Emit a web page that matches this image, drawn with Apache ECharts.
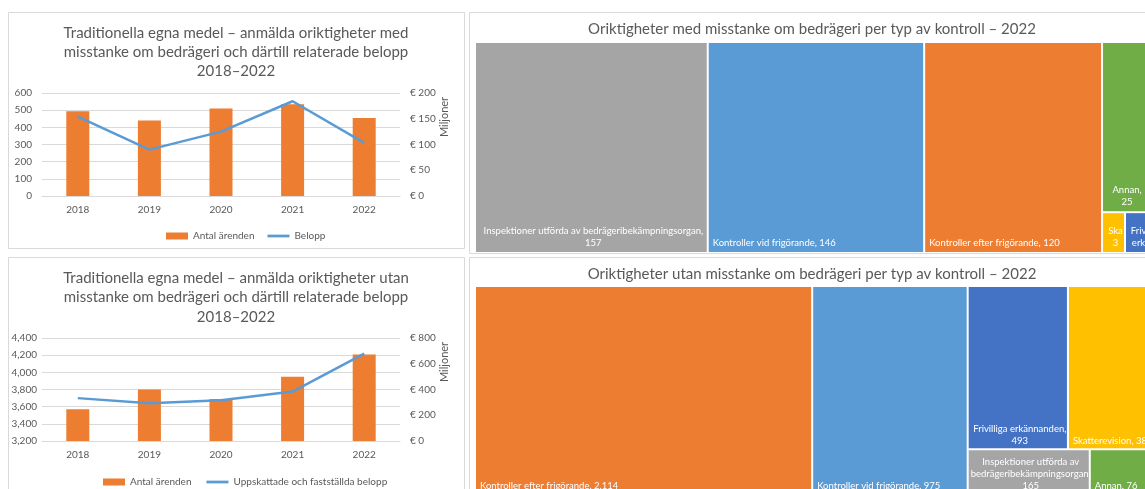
<!DOCTYPE html>
<html>
<head>
<meta charset="utf-8">
<script src="https://cdn.jsdelivr.net/npm/echarts@6/dist/echarts.min.js"></script>
<style>
  html, body { margin: 0; padding: 0; background: #fff; overflow: hidden; }
  #c { width: 1145px; height: 489px; }
</style>
</head>
<body>
<div id="c"></div>
<script>
// Years shown on both combo charts
const years = ['2018', '2019', '2020', '2021', '2022'];

// Reported irregularities with suspected fraud: number of cases and amounts (€ millions)
const fraudCases = [493, 440, 510, 534, 454];
const fraudAmounts = [154, 90, 125, 184, 103];

// Reported irregularities without suspected fraud: number of cases and amounts (€ millions)
const irregCases = [3570, 3800, 3690, 3950, 4207];
const irregAmounts = [333, 294, 317, 384, 678];

// 2022 breakdown by type of control
const fraudTypes = ['Inspektioner utförda av bedrägeribekämpningsorgan', 'Kontroller vid frigörande',
  'Kontroller efter frigörande', 'Annan', 'Skatterevision', 'Frivilliga erkännanden'];
const fraudTypeCounts = [157, 146, 120, 25, 3, 3];

const irregTypes = ['Kontroller efter frigörande', 'Kontroller vid frigörande', 'Frivilliga erkännanden',
  'Skatterevision', 'Inspektioner utförda av bedrägeribekämpningsorgan', 'Annan'];
const irregTypeCounts = [2114, 975, 493, 384, 165, 76];

// Axis tick ranges
const fraudCaseTicks = { min: 0, max: 600, interval: 100 };
const fraudAmountTicks = { min: 0, max: 200, interval: 50 };
const irregCaseTicks = { min: 3200, max: 4400, interval: 200 };
const irregAmountTicks = { min: 0, max: 800, interval: 200 };

// ---- styling ----
const FONT = 'Lato, "Noto Sans", sans-serif';
const TXT = '#595959';
const GRIDC = '#d9d9d9';
const ORANGE = '#ED7D31';
const LBLUE = '#5B9BD5';
const typeColor = {
  'Inspektioner utförda av bedrägeribekämpningsorgan': '#A5A5A5',
  'Kontroller vid frigörande': '#5B9BD5',
  'Kontroller efter frigörande': '#ED7D31',
  'Annan': '#70AD47',
  'Skatterevision': '#FFC000',
  'Frivilliga erkännanden': '#4472C4'
};

// Tile grouping (indices into the type arrays) so the tiles are arranged in columns/rows
const fraudGrouping = [0, 1, 2, [3, [4, 5]]];
const irregGrouping = [0, 1, [[2, 3], [4, 5]]];

// Line templates for labels that are wrapped inside narrow tiles ({v} = value)
const fraudWrap = {
  'Inspektioner utförda av bedrägeribekämpningsorgan': ['Inspektioner utförda av bedrägeribekämpningsorgan,', '{v}'],
  'Annan': ['Annan,', '{v}'],
  'Skatterevision': ['Skatterevision,', '{v}'],
  'Frivilliga erkännanden': ['Frivilliga', 'erkännanden, {v}']
};
const irregWrap = {
  'Frivilliga erkännanden': ['Frivilliga erkännanden,', '{v}'],
  'Inspektioner utförda av bedrägeribekämpningsorgan': ['Inspektioner utförda av', 'bedrägeribekämpningsorgan,', '{v}']
};

const fmtNum = v => v.toLocaleString('en-US');
const euro = v => '€ ' + fmtNum(v);
const LABEL_LH = 12;

function tileLabel(wrap) {
  return function (p) {
    const val = fmtNum(p.value);
    const lines = wrap[p.name];
    if (!lines) return p.name + ', ' + val;
    return lines.map(s => '{c|' + s.replace('{v}', val) + '}').join('\n');
  };
}

function buildNodes(names, counts, grouping) {
  return grouping.map(entry => Array.isArray(entry)
    ? { name: '', children: buildNodes(names, counts, entry), itemStyle: { color: '#fff' } }
    : { name: names[entry], value: counts[entry], itemStyle: { color: typeColor[names[entry]] } });
}

function treemapSeries(names, counts, grouping, wrap, box, bottomGap, overflow) {
  return {
    type: 'treemap',
    left: box.left, top: box.top, width: box.width, height: box.height,
    roam: false,
    nodeClick: false,
    silent: true,
    sort: false,
    squareRatio: 1,
    breadcrumb: { show: false },
    itemStyle: { borderWidth: 0, gapWidth: 2, borderColor: '#fff' },
    label: {
      show: true,
      color: '#fff',
      fontSize: 9.5,
      fontFamily: FONT,
      lineHeight: LABEL_LH,
      padding: [0, 4, 0, 0],
      overflow: overflow,
      ellipsis: '...',
      formatter: tileLabel(wrap),
      rich: { c: { align: 'center', color: '#fff', fontSize: 9.5, fontFamily: FONT, lineHeight: LABEL_LH } }
    },
    // labels sit at the bottom-left corner of each tile
    labelLayout: function (p) {
      const n = String(p.text).split('\n').length;
      return {
        x: p.rect.x + 4,
        y: p.rect.y + p.rect.height - n * LABEL_LH - bottomGap,
        align: 'left',
        verticalAlign: 'top'
      };
    },
    data: buildNodes(names, counts, grouping)
  };
}

const axisLabelStyle = { color: TXT, fontSize: 10, fontFamily: FONT };

function catAxis(gridIndex) {
  return {
    type: 'category', gridIndex, data: years,
    axisLine: { lineStyle: { color: GRIDC, width: 1 } },
    axisTick: { show: false },
    axisLabel: Object.assign({ margin: 9 }, axisLabelStyle)
  };
}
function valAxis(gridIndex, ticks, right, formatter, margin) {
  return {
    type: 'value', gridIndex, position: right ? 'right' : 'left',
    min: ticks.min, max: ticks.max, interval: ticks.interval,
    axisLine: { show: false }, axisTick: { show: false },
    splitLine: { show: !right, lineStyle: { color: GRIDC, width: 1 } },
    axisLabel: Object.assign({ margin, formatter }, axisLabelStyle)
  };
}

function panel(x, y, w, h) {
  return { type: 'rect', shape: { x: x + 0.5, y: y + 0.5, width: w, height: h },
    style: { fill: 'none', stroke: GRIDC, lineWidth: 1 }, silent: true, z: 0 };
}
function textEl(x, y, text, size, opts) {
  return Object.assign({ type: 'text', x, y, silent: true, z: 10,
    style: Object.assign({ text, fill: TXT, fontSize: size, fontFamily: FONT,
      align: 'center', verticalAlign: 'top', lineHeight: Math.round(size * 1.3) }, opts || {}) });
}

const chart = echarts.init(document.getElementById('c'), null, { renderer: 'canvas' });

chart.setOption({
  animation: false,
  backgroundColor: '#fff',
  textStyle: { fontFamily: FONT },
  grid: [
    { left: 42, top: 93, width: 358, height: 103 },
    { left: 42, top: 338, width: 358, height: 103 }
  ],
  xAxis: [catAxis(0), catAxis(1)],
  yAxis: [
    valAxis(0, fraudCaseTicks, false, fmtNum, 10),
    valAxis(0, fraudAmountTicks, true, euro, 10),
    valAxis(1, irregCaseTicks, false, fmtNum, 5),
    valAxis(1, irregAmountTicks, true, euro, 10)
  ],
  legend: [
    {
      left: 161, top: 226, itemWidth: 22, itemHeight: 7, itemGap: 13,
      textStyle: { color: TXT, fontSize: 10, fontFamily: FONT },
      data: [{ name: 'Antal ärenden', icon: 'rect' }, { name: 'Belopp', icon: 'path://M0,0H24V3H0Z' }]
    },
    {
      left: 98, top: 472, itemWidth: 22, itemHeight: 7, itemGap: 15,
      textStyle: { color: TXT, fontSize: 10, fontFamily: FONT },
      data: [{ name: 'Antal ärenden', icon: 'rect' }, { name: 'Uppskattade och fastställda belopp', icon: 'path://M0,0H24V3H0Z' }]
    }
  ],
  series: [
    { name: 'Antal ärenden', type: 'bar', xAxisIndex: 0, yAxisIndex: 0, barWidth: 23,
      itemStyle: { color: ORANGE }, data: fraudCases },
    { name: 'Belopp', type: 'line', xAxisIndex: 0, yAxisIndex: 1, symbol: 'none',
      lineStyle: { color: LBLUE, width: 2.5 }, itemStyle: { color: LBLUE }, data: fraudAmounts },
    { name: 'Antal ärenden', type: 'bar', xAxisIndex: 1, yAxisIndex: 2, barWidth: 23,
      itemStyle: { color: ORANGE }, data: irregCases },
    { name: 'Uppskattade och fastställda belopp', type: 'line', xAxisIndex: 1, yAxisIndex: 3, symbol: 'none',
      lineStyle: { color: LBLUE, width: 2.5 }, itemStyle: { color: LBLUE }, data: irregAmounts },
    treemapSeries(fraudTypes, fraudTypeCounts, fraudGrouping, fraudWrap,
      { left: 476, top: 43, width: 671, height: 209 }, 3, 'truncate'),
    treemapSeries(irregTypes, irregTypeCounts, irregGrouping, irregWrap,
      { left: 476, top: 287, width: 669, height: 206 }, 1, 'none')
  ],
  graphic: [
    panel(8, 12, 456, 236),
    panel(8, 257, 456, 240),
    panel(469, 12, 700, 241),
    panel(469, 257, 700, 240),
    textEl(236, 24, 'Traditionella egna medel – anmälda oriktigheter med\nmisstanke om bedrägeri och därtill relaterade belopp\n2018–2022', 15, { lineHeight: 19 }),
    textEl(236, 268, 'Traditionella egna medel – anmälda oriktigheter utan\nmisstanke om bedrägeri och därtill relaterade belopp\n2018–2022', 15, { lineHeight: 19.5 }),
    textEl(812, 20, 'Oriktigheter med misstanke om bedrägeri per typ av kontroll – 2022', 15, { lineHeight: 19 }),
    textEl(812, 265, 'Oriktigheter utan misstanke om bedrägeri per typ av kontroll – 2022', 15, { lineHeight: 19 }),
    Object.assign(textEl(444, 117, 'Miljoner', 11, { verticalAlign: 'middle' }), { rotation: Math.PI / 2 }),
    Object.assign(textEl(444, 362, 'Miljoner', 11, { verticalAlign: 'middle' }), { rotation: Math.PI / 2 })
  ]
});
</script>
</body>
</html>
